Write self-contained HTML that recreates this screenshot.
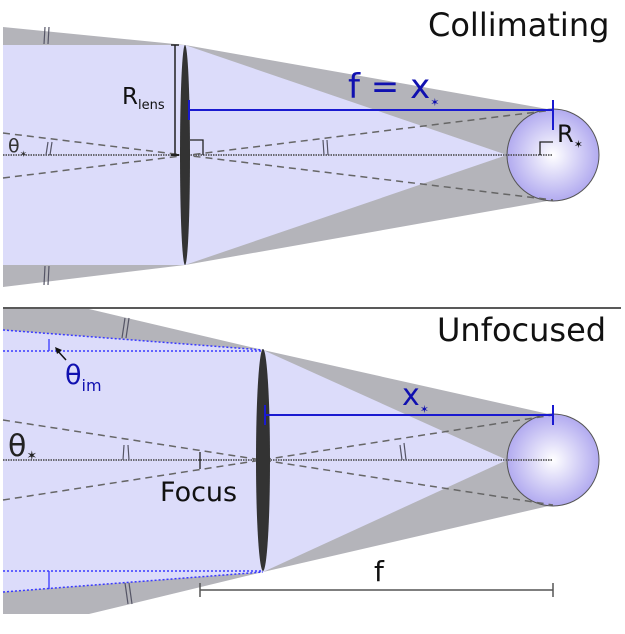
<!DOCTYPE html>
<html><head><meta charset="utf-8"><style>
html,body{margin:0;padding:0;background:#fff;}
svg{display:block;font-family:"DejaVu Sans","Liberation Sans",sans-serif;}
</style></head><body>
<svg width="625" height="634" viewBox="0 0 625 634" xmlns="http://www.w3.org/2000/svg">
<defs>
<radialGradient id="sg" cx="0.5" cy="0.5" r="0.55">
<stop offset="0" stop-color="#ffffff"/><stop offset="1" stop-color="#aaa2ee"/>
</radialGradient>
</defs>
<!-- TOP PANEL -->
<polygon points="3,27 185,45 553,110 553,200 185,265 3,287" fill="#b4b4ba"/>
<polygon points="3,45 185,45 185,265 3,265" fill="#dcdcfa"/>
<polygon points="185,45 507,155 185,265" fill="#dcdcfa"/>
<circle cx="553" cy="155" r="46" fill="url(#sg)" stroke="#555" stroke-width="1"/>
<line x1="3" y1="155" x2="553" y2="155" stroke="#444" stroke-width="1.5" stroke-dasharray="1.5,1"/>
<line x1="3" y1="133" x2="553" y2="200" stroke="#666" stroke-width="1.5" stroke-dasharray="7,5"/>
<line x1="3" y1="178" x2="553" y2="110" stroke="#666" stroke-width="1.5" stroke-dasharray="7,5"/>
<ellipse cx="185" cy="155" rx="5" ry="110" fill="#333"/>
<line x1="175" y1="45" x2="175" y2="155" stroke="#222" stroke-width="1.5"/>
<line x1="171" y1="45" x2="179" y2="45" stroke="#222" stroke-width="1.5"/>
<line x1="171" y1="155" x2="179" y2="155" stroke="#222" stroke-width="2"/>
<text x="122" y="104" font-size="23" fill="#111">R<tspan font-size="13" dy="5">lens</tspan></text>
<line x1="189" y1="110" x2="553" y2="110" stroke="#1a1ad0" stroke-width="2"/>
<line x1="189" y1="100" x2="189" y2="120" stroke="#1a1ad0" stroke-width="2"/>
<line x1="553" y1="100" x2="553" y2="130" stroke="#1a1ad0" stroke-width="2"/>
<text x="348" y="98" font-size="34" fill="#1010b0">f = x<tspan font-size="11" dy="8">✶</tspan></text>
<polyline points="190,140 203,140 203,155" fill="none" stroke="#222" stroke-width="1.3"/>
<polyline points="540,155 540,142 553,142" fill="none" stroke="#222" stroke-width="1.3"/>
<text x="557" y="142" font-size="24" fill="#111">R<tspan font-size="11" dy="6">✶</tspan></text>
<text x="8" y="152" font-size="19" fill="#333">θ<tspan font-size="9" dy="5">✶</tspan></text>
<g stroke="#556" stroke-width="1.2">
<line x1="48" y1="142" x2="46" y2="155"/><line x1="52" y1="142" x2="50" y2="155"/>
<line x1="323" y1="140" x2="324" y2="155"/><line x1="327" y1="140" x2="328" y2="155"/>
<line x1="45" y1="27" x2="44" y2="44"/><line x1="49" y1="27" x2="48" y2="44"/>
<line x1="45" y1="266" x2="44" y2="285"/><line x1="49" y1="266" x2="48" y2="285"/>
</g>
<text x="428" y="36" font-size="32" fill="#111">Collimating</text>
<line x1="3" y1="308" x2="621" y2="308" stroke="#222" stroke-width="1.5"/>
<!-- BOTTOM PANEL -->
<polygon points="3,309 89,309 263,350 553,415 553,505 263,572 89,614 3,614" fill="#b4b4ba"/>
<polygon points="3,330 263,350 263,572 3,592" fill="#dcdcfa"/>
<polygon points="263,350 507,460 263,572" fill="#dcdcfa"/>
<circle cx="553" cy="460" r="46" fill="url(#sg)" stroke="#555" stroke-width="1"/>
<g stroke="#3a3aff" stroke-width="1.5" stroke-dasharray="2,2">
<line x1="3" y1="330" x2="263" y2="350"/><line x1="3" y1="351" x2="263" y2="351"/>
<line x1="3" y1="592" x2="263" y2="572"/><line x1="3" y1="571" x2="263" y2="571"/>
</g>
<line x1="49" y1="339" x2="49" y2="351" stroke="#3a3aff" stroke-width="1.3"/>
<line x1="49" y1="571" x2="49" y2="589" stroke="#3a3aff" stroke-width="1.3"/>
<line x1="66" y1="360" x2="56" y2="349" stroke="#111" stroke-width="1.5"/>
<polygon points="55,347 62,350 57,354" fill="#111"/>
<text x="65" y="384" font-size="27" fill="#1010b0">θ<tspan font-size="16" dy="7">im</tspan></text>
<line x1="3" y1="460" x2="553" y2="460" stroke="#444" stroke-width="1.5" stroke-dasharray="1.5,1"/>
<line x1="3" y1="420" x2="553" y2="505" stroke="#666" stroke-width="1.5" stroke-dasharray="7,5"/>
<line x1="3" y1="500" x2="553" y2="415" stroke="#666" stroke-width="1.5" stroke-dasharray="7,5"/>
<ellipse cx="263" cy="460" rx="7" ry="111" fill="#333"/>
<line x1="265" y1="415" x2="553" y2="415" stroke="#1a1ad0" stroke-width="2"/>
<line x1="265" y1="405" x2="265" y2="425" stroke="#1a1ad0" stroke-width="2"/>
<line x1="553" y1="405" x2="553" y2="425" stroke="#1a1ad0" stroke-width="2"/>
<text x="402" y="405" font-size="30" fill="#1010b0">x<tspan font-size="11" dy="8">✶</tspan></text>
<text x="8" y="456" font-size="30" fill="#222">θ<tspan font-size="13" dy="4">✶</tspan></text>
<g stroke="#556" stroke-width="1.2">
<line x1="124" y1="445" x2="123" y2="460"/><line x1="128" y1="445" x2="129" y2="460"/>
<line x1="400" y1="445" x2="402" y2="460"/><line x1="404" y1="443" x2="406" y2="460"/>
<line x1="125" y1="318" x2="122" y2="338"/><line x1="129" y1="318" x2="126" y2="338"/>
<line x1="125" y1="583" x2="128" y2="604"/><line x1="129" y1="583" x2="132" y2="604"/>
</g>
<line x1="200" y1="452" x2="200" y2="469" stroke="#222" stroke-width="1.3"/>
<text x="160" y="501" font-size="27" fill="#111">Focus</text>
<line x1="200" y1="590" x2="553" y2="590" stroke="#555" stroke-width="1.5"/>
<line x1="200" y1="583" x2="200" y2="597" stroke="#555" stroke-width="1.5"/>
<line x1="553" y1="583" x2="553" y2="597" stroke="#555" stroke-width="1.5"/>
<text x="374" y="581" font-size="28" fill="#111">f</text>
<text x="437" y="341" font-size="32" fill="#111">Unfocused</text>
</svg>
</body></html>
